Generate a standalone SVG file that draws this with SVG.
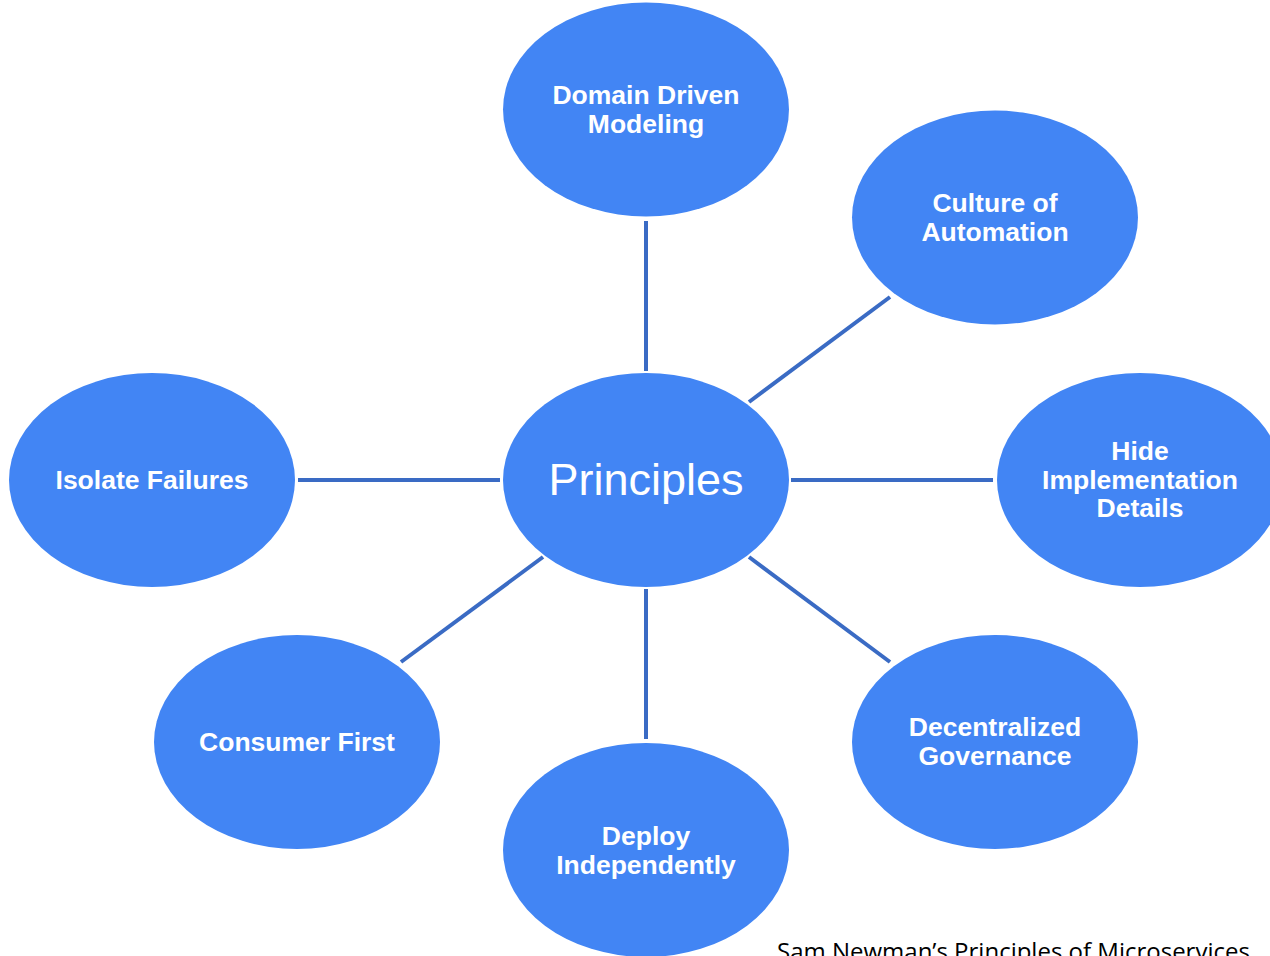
<svg xmlns="http://www.w3.org/2000/svg" width="1270" height="956" viewBox="0 0 1270 956">
<style>
.n{fill:#4285F4}
.t{font-family:"Liberation Sans",Arial,sans-serif;font-weight:bold;font-size:26.5px;fill:#fff;text-anchor:middle}
.c{stroke:#3A6BC4;stroke-width:4;fill:none}
</style>
<rect width="1270" height="956" fill="#fff"/>
<g id="connectors">
<line class="c" x1="646" y1="221" x2="646" y2="371"/>
<line class="c" x1="749" y1="402" x2="890" y2="297"/>
<line class="c" x1="791" y1="480" x2="993" y2="480"/>
<line class="c" x1="749" y1="557" x2="890" y2="662"/>
<line class="c" x1="646" y1="589" x2="646" y2="739"/>
<line class="c" x1="543" y1="557" x2="401" y2="662"/>
<line class="c" x1="298" y1="480" x2="500" y2="480"/>
</g>
<g id="principles">
<ellipse class="n" cx="646" cy="480" rx="143" ry="107"/>
<text x="646" y="495" font-family="Liberation Sans,Arial,sans-serif" font-size="45" fill="#fff" text-anchor="middle">Principles</text>
</g>
<g id="domain">
<ellipse class="n" cx="646" cy="109.5" rx="143" ry="107"/>
<text class="t" x="646" y="104">Domain Driven</text>
<text class="t" x="646" y="133">Modeling</text>
</g>
<g id="culture">
<ellipse class="n" cx="995" cy="217.5" rx="143" ry="107"/>
<text class="t" x="995" y="212">Culture of</text>
<text class="t" x="995" y="241">Automation</text>
</g>
<g id="hide">
<ellipse class="n" cx="1140" cy="480" rx="143" ry="107"/>
<text class="t" x="1140" y="460">Hide</text>
<text class="t" x="1140" y="489">Implementation</text>
<text class="t" x="1140" y="517">Details</text>
</g>
<g id="decentralized">
<ellipse class="n" cx="995" cy="742" rx="143" ry="107"/>
<text class="t" x="995" y="736">Decentralized</text>
<text class="t" x="995" y="765">Governance</text>
</g>
<g id="deploy">
<ellipse class="n" cx="646" cy="850" rx="143" ry="107"/>
<text class="t" x="646" y="845">Deploy</text>
<text class="t" x="646" y="874">Independently</text>
</g>
<g id="consumer">
<ellipse class="n" cx="297" cy="742" rx="143" ry="107"/>
<text class="t" x="297" y="751">Consumer First</text>
</g>
<g id="isolate">
<ellipse class="n" cx="152" cy="480" rx="143" ry="107"/>
<text class="t" x="152" y="489">Isolate Failures</text>
</g>
<text x="777" y="960" font-family="Open Sans,Noto Sans,sans-serif" font-size="24" fill="#000">Sam Newman’s Principles of Microservices</text>
</svg>
